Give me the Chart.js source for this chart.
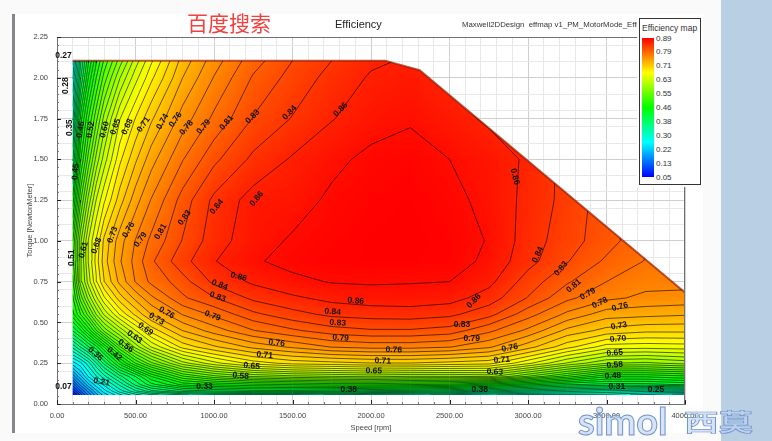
<!DOCTYPE html>
<html>
<head>
<meta charset="utf-8">
<script src="https://cdn.jsdelivr.net/npm/chart.js@4"></script>
<style>
html, body { margin: 0; padding: 0; background: #fafafa; overflow: hidden; }
#page { position: relative; width: 772px; height: 441px; font-family: "Liberation Sans", Arial, sans-serif; overflow: hidden; }
#page div { position: absolute; white-space: nowrap; }
#sheet { left: 15px; top: 14px; width: 688px; height: 419px; background: #fff; }
#bar { left: 12px; top: 14px; width: 3px; height: 419px; background: #85858a; }
#side { left: 721px; top: 0; width: 51px; height: 441px; background: #b9cfe3; }
canvas { position: absolute; left: 0; top: 0; }
#baidu { left: 187px; top: 7px; font: 21px "Noto Sans CJK SC"; color: #f2403c; }
#title { left: 335px; top: 18px; font-size: 11px; color: #222; }
#sub { left: 462px; top: 20px; width: 175px; overflow: hidden; font-size: 7.8px; color: #333; }
#legend { left: 637px; top: 14px; width: 65px; height: 173px; background: #fff; }
#legendBox { left: 639px; top: 18px; width: 60px; height: 165px; border: 1px solid #333; background: #fff; }
#legendTitle { left: 642px; top: 23px; font-size: 8.5px; color: #333; }
#legendBar { left: 642px; top: 38px; width: 12px; height: 139px;
  background: linear-gradient(#ff0000, #ffff00 25%, #00ff00 50%, #00ffff 75%, #0000ff); }
.lt { left: 656px; font-size: 8px; color: #333; }
#simol { left: 578px; top: 400px; font: 700 38px/40px Lato; color: rgba(190,210,240,.6); -webkit-text-stroke: 1px #6f93cf; }
#ximo { left: 684px; top: 396px; font: 700 34.5px/40px "Noto Sans CJK SC"; color: rgba(190,210,240,.6); -webkit-text-stroke: 1px #6f93cf; transform: scaleY(.68); transform-origin: 50% 85%; }
</style>
</head>
<body>
<div id="page">
  <div id="sheet"></div>
  <div id="bar"></div>
  <div id="side"></div>
  <canvas id="chart" width="772" height="441"></canvas>
  <div id="baidu">百度搜索</div>
  <div id="title">Efficiency</div>
  <div id="sub">Maxwell2DDesign&nbsp; effmap v1_PM_MotorMode_Efficiency</div>
  <div id="legend"></div>
  <div id="legendBox"></div>
  <div id="legendTitle">Efficiency map</div>
  <div id="legendBar"></div>
  <div id="simol">simol</div>
  <div id="ximo">西莫</div>
</div>
<script>
const speeds = [100, 150, 200, 250, 300, 400, 500, 600, 800, 1000, 1250, 1500, 1750, 2000, 2250, 2500, 2750, 3000, 3250, 3500, 3750, 4000];
const torques = [0.055, 0.08, 0.12, 0.17, 0.25, 0.35, 0.45, 0.55, 0.65, 0.75, 0.875, 1.0, 1.25, 1.5, 1.75, 2.0, 2.105];

// efficiency, one list per speed, same order as torques
const eff100 = [.06, .09, .13, .18, .25, .33, .41, .47, .49, .505, .52, .51, .45, .39, .34, .29, .27];
const eff150 = [.11, .14, .18, .22, .27, .36, .44, .51, .55, .585, .59, .59, .54, .49, .45, .39, .37];
const eff200 = [.16, .18, .22, .26, .30, .39, .48, .55, .60, .635, .645, .645, .60, .55, .51, .46, .44];
const eff250 = [.20, .22, .25, .29, .34, .42, .525, .595, .64, .675, .685, .68, .645, .60, .555, .51, .49];
const eff300 = [.23, .25, .28, .32, .38, .46, .565, .63, .675, .71, .72, .715, .675, .635, .60, .55, .53];
const eff400 = [.27, .30, .33, .37, .45, .54, .615, .68, .72, .75, .76, .755, .72, .69, .66, .61, .585];
const eff500 = [.30, .34, .38, .41, .51, .60, .66, .715, .75, .78, .785, .78, .755, .725, .695, .655, .635];
const eff600 = [.32, .37, .42, .46, .555, .645, .70, .745, .775, .80, .81, .80, .78, .755, .725, .69, .675];
const eff800 = [.34, .40, .465, .525, .62, .70, .745, .78, .81, .822, .84, .83, .82, .795, .77, .745, .735];
const eff1000 = [.35, .41, .48, .555, .655, .725, .77, .80, .828, .85, .862, .855, .85, .825, .80, .78, .771];
const eff1250 = [.35, .42, .49, .58, .685, .75, .795, .825, .85, .866, .878, .873, .87, .85, .83, .815, .806];
const eff1500 = [.35, .42, .495, .59, .70, .765, .81, .84, .86, .876, .885, .882, .873, .865, .847, .835, .829];
const eff1750 = [.34, .415, .50, .595, .705, .78, .822, .85, .868, .881, .889, .887, .883, .876, .862, .852, .846];
const eff2000 = [.33, .405, .50, .60, .71, .785, .827, .853, .872, .882, .89, .89, .888, .884, .873, .865, .86];
const eff2250 = [.33, .40, .495, .595, .71, .785, .827, .854, .873, .881, .89, .891, .89, .887, .878, .87, .865];
const eff2500 = [.32, .39, .49, .595, .705, .78, .822, .85, .87, .88, .888, .888, .885, .88, .87, .86, .855];
const eff2750 = [.31, .375, .47, .60, .70, .765, .80, .835, .855, .868, .876, .879, .875, .873, .86, .85, .845];
const eff3000 = [.30, .36, .45, .56, .665, .735, .775, .803, .828, .838, .852, .855, .858, .86, .85, .84, .835];
const eff3250 = [.30, .35, .43, .52, .625, .70, .74, .775, .80, .815, .83, .836, .84, .84, .83, .82, .815];
const eff3500 = [.30, .34, .42, .48, .595, .67, .722, .753, .783, .796, .81, .82, .82, .82, .81, .80, .79];
const eff3750 = [.285, .33, .42, .48, .59, .668, .715, .75, .775, .785, .795, .80, .80, .80, .79, .78, .77];
const eff4000 = [.27, .33, .43, .49, .60, .67, .715, .747, .773, .785, .785, .785, .785, .78, .77, .76, .75];
const effBySpeed = [eff100, eff150, eff200, eff250, eff300, eff400, eff500, eff600, eff800, eff1000, eff1250, eff1500, eff1750, eff2000, eff2250, eff2500, eff2750, eff3000, eff3250, eff3500, eff3750, eff4000];

// outline of the operating region
const edgeSpeed = [100, 100, 2090, 2310, 4000, 4000];
const edgeTorque = [0.055, 2.105, 2.105, 2.046, 0.683, 0.055];

const contourLevels = [.88, .863, .846, .829, .813, .796, .779, .762, .745, .728, .711, .694, .678, .661, .644, .627, .611, .594, .577, .56, .543, .527, .51, .493, .476, .459, .443, .426, .409, .392, .375, .359, .342, .325, .308, .291, .275, .258, .241, .224, .207, .191, .174, .157, .14, .123, .107, .09, .073];

const labelText = ['0.27', '0.28', '0.35', '0.46', '0.52', '0.60', '0.65', '0.68', '0.71', '0.74', '0.76', '0.78', '0.79', '0.81', '0.83', '0.84', '0.86', '0.86', '0.45', '0.51', '0.61', '0.68', '0.73', '0.76', '0.79', '0.81', '0.83', '0.84', '0.86', '0.86', '0.84', '0.83', '0.79', '0.76', '0.73', '0.69', '0.63', '0.56', '0.42', '0.36', '0.21', '0.33', '0.07', '0.58', '0.65', '0.71', '0.76', '0.86', '0.84', '0.83', '0.79', '0.76', '0.71', '0.65', '0.38', '0.86', '0.83', '0.79', '0.76', '0.71', '0.63', '0.38', '0.84', '0.83', '0.81', '0.79', '0.78', '0.76', '0.73', '0.70', '0.65', '0.58', '0.48', '0.31', '0.25'];
const labelSpeed = [41, 54, 80, 150, 214, 303, 373, 449, 551, 672, 755, 825, 934, 1080, 1246, 1482, 1807, 2916, 118, 92, 169, 252, 354, 456, 532, 660, 813, 1017, 1272, 1157, 1036, 1023, 991, 698, 634, 564, 494, 437, 366, 245, 284, 940, 41, 1170, 1240, 1323, 1399, 1903, 1756, 1788, 1807, 2145, 2075, 2018, 1858, 2655, 2579, 2642, 2884, 2833, 2789, 2693, 3063, 3210, 3292, 3381, 3458, 3585, 3579, 3573, 3553, 3553, 3541, 3566, 3815];
const labelTorque = [2.136, 1.952, 1.694, 1.682, 1.682, 1.682, 1.7, 1.7, 1.713, 1.731, 1.743, 1.694, 1.7, 1.725, 1.762, 1.786, 1.805, 1.394, 1.424, .896, .945, .97, 1.037, 1.068, 1.007, 1.056, 1.142, 1.209, 1.258, .78, .731, .657, .54, .559, .522, .46, .411, .356, .307, .307, .135, .104, .104, .172, .233, .3, .374, .632, .565, .497, .405, .332, .264, .203, .086, .632, .485, .399, .344, .27, .196, .086, .915, .829, .724, .675, .62, .595, .479, .399, .313, .239, .172, .104, .086];
const labelAngle = [0, -90, -90, -80, -80, -75, -70, -65, -55, -60, -55, -50, -50, -50, -45, -45, -45, 75, -85, -90, -75, -70, -70, -60, -55, -60, -55, -50, -50, 15, 20, 20, 20, 30, 30, 35, 35, 35, 40, 40, 10, 0, 0, 5, 5, 5, 5, 5, 5, 3, 3, 2, 2, 2, 0, -45, 0, 0, -10, -3, 3, 0, -65, -50, -40, -30, -25, -15, -10, -5, -5, -5, -3, 0, 0];

const legendValues = ['0.89', '0.79', '0.71', '0.63', '0.55', '0.46', '0.38', '0.30', '0.22', '0.13', '0.05'];

legendValues.forEach((v, i) => {
    const d = document.createElement('div');
    d.className = 'lt';
    d.textContent = v;
    d.style.top = (33.5 + i * 13.9) + 'px';
    document.getElementById('page').appendChild(d);
});

const isMultiple = (v, step) => Math.abs(v / step - Math.round(v / step)) < 1e-6;

function effColor(v) {
    const t = Math.max(0, Math.min(1, (v - 0.05) / 0.84)) * 4;
    if (t < 1) return [0, 255 * t, 255];
    if (t < 2) return [0, 255, 255 * (2 - t)];
    if (t < 3) return [255 * (t - 2), 255, 0];
    return [255, 255 * (4 - t), 0];
}

function findCell(list, v) {
    let i = 0;
    while (i < list.length - 2 && v > list[i + 1]) i++;
    return i;
}

function effAt(n, T) {
    const i = findCell(speeds, n), j = findCell(torques, T);
    const u = (n - speeds[i]) / (speeds[i + 1] - speeds[i]);
    const w = (T - torques[j]) / (torques[j + 1] - torques[j]);
    return (1 - u) * (1 - w) * effBySpeed[i][j] + u * (1 - w) * effBySpeed[i + 1][j]
        + (1 - u) * w * effBySpeed[i][j + 1] + u * w * effBySpeed[i + 1][j + 1];
}

// contour segments of the read grid, with gaps between them
function contourData() {
    const out = [];
    contourLevels.forEach(L => {
        for (let i = 0; i < speeds.length - 1; i++) {
            for (let j = 0; j < torques.length - 1; j++) {
                const x0 = speeds[i], x1 = speeds[i + 1], y0 = torques[j], y1 = torques[j + 1];
                const a = effBySpeed[i][j], b = effBySpeed[i + 1][j], c = effBySpeed[i + 1][j + 1], d = effBySpeed[i][j + 1];
                const pts = [];
                if ((a < L) !== (b < L)) pts.push({ x: x0 + (L - a) / (b - a) * (x1 - x0), y: y0 });
                if ((b < L) !== (c < L)) pts.push({ x: x1, y: y0 + (L - b) / (c - b) * (y1 - y0) });
                if ((d < L) !== (c < L)) pts.push({ x: x0 + (L - d) / (c - d) * (x1 - x0), y: y1 });
                if ((a < L) !== (d < L)) pts.push({ x: x0, y: y0 + (L - a) / (d - a) * (y1 - y0) });
                for (let k = 0; k + 1 < pts.length; k += 2) {
                    out.push(pts[k], pts[k + 1], { x: NaN, y: NaN });
                }
            }
        }
    });
    return out;
}

function edgePath(ctx, chart) {
    ctx.beginPath();
    edgeSpeed.forEach((n, i) => {
        const px = chart.scales.x.getPixelForValue(n), py = chart.scales.y.getPixelForValue(edgeTorque[i]);
        if (i === 0) ctx.moveTo(px, py); else ctx.lineTo(px, py);
    });
    ctx.closePath();
}

const heatPlugin = {
    id: 'heat',
    beforeDatasetsDraw(chart) {
        const { ctx, chartArea: a, scales } = chart;
        const w = Math.round(a.right - a.left), h = Math.round(a.bottom - a.top);
        const off = document.createElement('canvas');
        off.width = w; off.height = h;
        const oc = off.getContext('2d');
        const img = oc.createImageData(w, h);
        for (let py = 0; py < h; py++) {
            const T = scales.y.getValueForPixel(a.top + py + 0.5);
            for (let px = 0; px < w; px++) {
                const n = scales.x.getValueForPixel(a.left + px + 0.5);
                const col = effColor(effAt(n, T));
                const k = (py * w + px) * 4;
                img.data[k] = col[0]; img.data[k + 1] = col[1]; img.data[k + 2] = col[2]; img.data[k + 3] = 255;
            }
        }
        oc.putImageData(img, 0, 0);
        ctx.save();
        edgePath(ctx, chart);
        ctx.clip();
        ctx.drawImage(off, a.left, a.top);
        ctx.restore();
    },
    beforeDatasetDraw(chart, args) {
        if (args.index !== 0) return;
        chart.ctx.save();
        edgePath(chart.ctx, chart);
        chart.ctx.clip();
    },
    afterDatasetDraw(chart, args) {
        if (args.index === 0) chart.ctx.restore();
    },
    afterDatasetsDraw(chart) {
        const { ctx, chartArea: a, scales } = chart;
        ctx.save();
        // frame and inner tick marks
        ctx.strokeStyle = '#707070';
        ctx.lineWidth = 1;
        ctx.strokeRect(a.left + 0.5, a.top + 0.5, a.right - a.left - 1, a.bottom - a.top);
        scales.x.ticks.forEach(t => {
            const major = t.value % 500 === 0;
            const px = Math.round(scales.x.getPixelForValue(t.value)) + 0.5;
            ctx.strokeStyle = major ? '#222' : '#777';
            ctx.beginPath(); ctx.moveTo(px, a.bottom); ctx.lineTo(px, a.bottom - (major ? 4 : 2)); ctx.stroke();
        });
        scales.y.ticks.forEach(t => {
            const major = isMultiple(t.value, 0.25);
            const py = Math.round(scales.y.getPixelForValue(t.value)) + 0.5;
            ctx.strokeStyle = major ? '#222' : '#777';
            ctx.beginPath(); ctx.moveTo(a.left, py); ctx.lineTo(a.left + (major ? 4 : 2), py); ctx.stroke();
        });
        // contour labels
        ctx.fillStyle = '#111';
        ctx.font = 'bold 8.5px "Liberation Sans"';
        ctx.textAlign = 'center';
        ctx.textBaseline = 'middle';
        labelText.forEach((s, i) => {
            ctx.save();
            ctx.translate(scales.x.getPixelForValue(labelSpeed[i]), scales.y.getPixelForValue(labelTorque[i]));
            ctx.rotate(labelAngle[i] * Math.PI / 180);
            ctx.fillText(s, 0, 0);
            ctx.restore();
        });
        ctx.restore();
    }
};

Chart.defaults.font.family = '"Liberation Sans", Arial, sans-serif';
Chart.defaults.font.size = 7.5;
Chart.defaults.color = '#444';

new Chart(document.getElementById('chart'), {
    type: 'scatter',
    data: {
        datasets: [
            {
                data: contourData(),
                showLine: true,
                spanGaps: false,
                pointRadius: 0,
                borderColor: 'rgba(0,0,0,0.85)',
                borderWidth: 0.7
            },
            {
                data: edgeSpeed.slice(1, 5).map((n, i) => ({ x: n, y: edgeTorque[i + 1] })),
                showLine: true,
                pointRadius: 0,
                borderColor: 'rgba(150,25,0,0.7)',
                borderWidth: 2
            }
        ]
    },
    options: {
        responsive: false,
        animation: false,
        events: [],
        layout: { padding: { top: 37, right: 87, left: 0, bottom: 0 } },
        plugins: { legend: { display: false }, tooltip: { enabled: false } },
        scales: {
            x: {
                type: 'linear',
                min: 0,
                max: 4000,
                afterFit: s => { s.height = 37; },
                ticks: {
                    stepSize: 100,
                    autoSkip: false,
                    maxRotation: 0,
                    padding: 7,
                    callback: v => (v % 500 === 0 ? v.toFixed(2) : '')
                },
                grid: {
                    drawTicks: false,
                    color: c => (c.tick.value % 500 === 0 ? '#cfcfcf' : '#e8e8e8')
                },
                border: { color: '#707070' },
                title: { display: true, text: 'Speed [rpm]', font: { size: 7.5 }, padding: { top: 0, bottom: 9 } }
            },
            y: {
                type: 'linear',
                min: 0,
                max: 2.25,
                afterFit: s => { s.width = 57; },
                ticks: {
                    stepSize: 0.05,
                    autoSkip: false,
                    padding: 9,
                    callback: v => (isMultiple(v, 0.25) ? v.toFixed(2) : '')
                },
                grid: {
                    drawTicks: false,
                    color: c => {
                        if (isMultiple(c.tick.value, 0.25)) return '#cfcfcf';
                        return isMultiple(c.tick.value, 0.1) ? '#e8e8e8' : 'rgba(0,0,0,0)';
                    }
                },
                border: { color: '#707070' },
                title: { display: true, text: 'Torque [NewtonMeter]', font: { size: 7.5 }, padding: { top: 25, bottom: 0 } }
            }
        }
    },
    plugins: [heatPlugin]
});
</script>
</body>
</html>
